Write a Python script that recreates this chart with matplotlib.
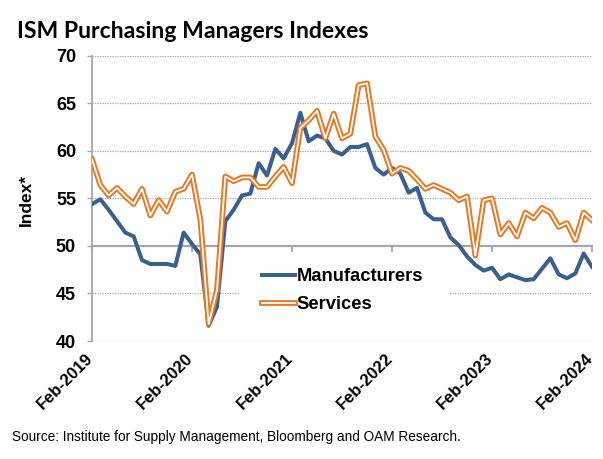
import matplotlib
matplotlib.use("Agg")
import matplotlib.pyplot as plt
import matplotlib.patheffects as pe
from matplotlib.patches import Rectangle
from matplotlib.transforms import blended_transform_factory
import numpy as np

# ---- data ----
months = list(range(61))  # Feb-2019 .. Feb-2024 (monthly)
manufacturers = [54.4, 54.9, 53.8, 52.6, 51.4, 51.0, 48.5, 48.1, 48.1, 48.1, 47.9,
                 51.4, 50.2, 49.1, 41.6, 43.6, 52.6, 53.8, 55.3, 55.5, 58.7, 57.4,
                 60.2, 59.2, 60.8, 64.0, 61.0, 61.6, 61.3, 60.0, 59.6, 60.4, 60.4,
                 60.7, 58.2, 57.5, 58.2, 57.6, 55.6, 56.1, 53.5, 52.8, 52.8, 50.9,
                 50.1, 48.9, 48.0, 47.4, 47.7, 46.5, 47.0, 46.7, 46.4, 46.5, 47.6,
                 48.7, 47.0, 46.6, 47.1, 49.2, 47.8]
services = [59.1, 56.4, 55.3, 56.1, 55.2, 54.4, 56.0, 53.2, 54.8, 53.6, 55.7,
            56.0, 57.5, 52.8, 41.8, 45.4, 57.3, 56.8, 57.2, 57.2, 56.2, 56.2,
            57.3, 58.3, 56.6, 62.4, 63.2, 64.2, 61.3, 63.9, 61.3, 61.8, 66.9,
            67.1, 61.5, 60.1, 57.6, 58.2, 57.9, 57.0, 56.0, 56.4, 56.0, 55.6,
            54.8, 55.2, 49.0, 54.8, 55.0, 51.2, 52.4, 51.0, 53.5, 52.9, 54.0,
            53.5, 52.0, 52.4, 50.6, 53.5, 52.7]
tick_months = [0, 12, 24, 36, 48, 60]
tick_labels = ["Feb-2019", "Feb-2020", "Feb-2021", "Feb-2022", "Feb-2023", "Feb-2024"]
y_ticks = [40, 45, 50, 55, 60, 65, 70]

BLUE = "#3B5F8F"
ORANGE = "#E8771F"
GRID = "#A6A6A6"

W, H = 603, 459
fig = plt.figure(figsize=(W / 100, H / 100), dpi=100)
ax = fig.add_axes([92 / W, 1 - 341 / H, 500 / W, (341 - 55.7) / H])

ax.set_xlim(0, 60)
ax.set_ylim(40, 70)

# gridlines (dotted), except at 50 which is the axis line
for yv in y_ticks:
    if yv == 50:
        continue
    ax.axhline(yv, color=GRID, lw=0.9, ls=(0, (1, 1)), zorder=0.5)

# x-axis line at 50
ax.spines["bottom"].set_position(("data", 50))
ax.spines["bottom"].set_color(GRID)
ax.spines["bottom"].set_linewidth(1.6)
ax.spines["left"].set_color(GRID)
ax.spines["left"].set_linewidth(1.3)
ax.spines["top"].set_visible(False)
ax.spines["right"].set_visible(False)

ax.set_xticks(tick_months)
ax.tick_params(axis="x", direction="out", length=4, width=1.3, color=GRID,
               labelbottom=False)
ax.set_yticks(y_ticks)
ax.set_yticklabels([str(v) for v in y_ticks], fontweight="bold",
                   fontsize=13, family="Liberation Sans")
ax.tick_params(axis="y", direction="out", length=3.5, width=1.0, color=GRID, pad=8)

ax.plot(months, manufacturers, color=BLUE, lw=2.9, label="Manufacturers",
        solid_joinstyle="round", zorder=3)
ax.plot(months, services, color="white", lw=1.3, label="Services", zorder=4,
        path_effects=[pe.Stroke(linewidth=4.1, foreground=ORANGE), pe.Normal()])

# x tick labels (manual, rotated)
trans = blended_transform_factory(ax.transData, fig.transFigure)
for m, lab in zip(tick_months, tick_labels):
    ax.text(m - 0.85, 1 - 351 / H, lab, transform=trans, rotation=45,
            rotation_mode="anchor", ha="right", va="top",
            fontsize=12, fontweight="bold", family="Liberation Sans")

# white legend area hiding the gridline
ax.add_patch(Rectangle((240 / W, 1 - 325 / H), 209 / W, 62 / H,
                       transform=fig.transFigure, facecolor="white",
                       edgecolor="none", zorder=1))

leg = ax.legend(loc="upper left", bbox_to_anchor=(262 / W, 1 - 268 / H),
                bbox_transform=fig.transFigure, frameon=False,
                prop={"family": "Liberation Sans", "weight": "bold", "size": 13.2},
                handlelength=1.8, handletextpad=0.1, labelspacing=0.6,
                borderpad=0.0, borderaxespad=0)
leg.set_zorder(5)

fig.text(17 / W, 1 - 32 / H, "ISM Purchasing Managers Indexes", family="Lato",
         fontweight="bold", fontsize=16.6, va="center", ha="left")
fig.text(26 / W, 1 - 200 / H, "Index*", rotation=90, family="Liberation Sans",
         fontweight="bold", fontsize=12.5, va="center", ha="center")
fig.text(12 / W, 1 - 437 / H,
         "Source: Institute for Supply Management, Bloomberg and OAM Research.",
         family="Liberation Sans", fontsize=9.85, va="center", ha="left")

fig.savefig("out.png", dpi=100)
